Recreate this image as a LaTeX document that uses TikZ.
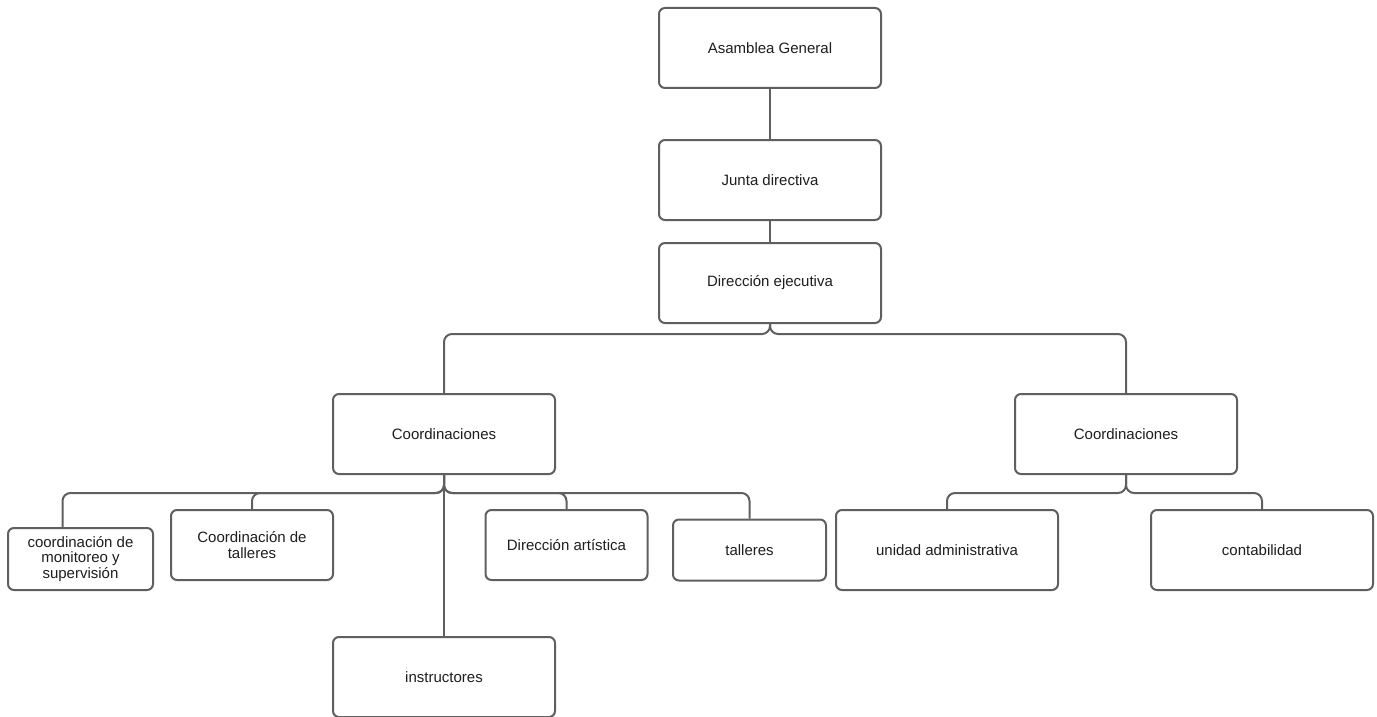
\documentclass[tikz,border=0pt]{standalone}
\usepackage{fontspec}
\setmainfont{Liberation Sans}
\usepackage{tikz}
\usetikzlibrary{calc,positioning}
\definecolor{orgline}{HTML}{5F5F5F}
\definecolor{orgtext}{HTML}{1E1E1E}
\definecolor{orgsurf}{HTML}{FFFFFF}

\begin{document}
\begin{tikzpicture}[x=0.75pt, y=-0.75pt,
    every node/.style={font=\fontsize{11.25}{11.8}\selectfont, text=orgtext},
    unit/.style={draw=orgline, fill=orgsurf, line width=1.5pt, rounded corners=4.5pt,
                 align=center, minimum width=166.5pt, minimum height=60pt},
    link/.style={draw=orgline, line width=1.5pt, rounded corners=6pt}]
  \useasboundingbox (0,0) rectangle (1377,717);
  % top chain
  \node[unit] (asam)  at (770,48)  {Asamblea General};
  \node[unit] (junta) at (770,180) {Junta directiva};
  \node[unit] (direc) at (770,283) {Dirección ejecutiva};
  \node[unit] (coordL) at (444,434)  {Coordinaciones};
  \node[unit] (coordR) at (1126,434) {Coordinaciones};
  % left branch
  \node[unit, minimum width=108.75pt, minimum height=46.5pt] (monit) at (80.5,559)
    {coordinación de\\monitoreo y\\supervisión};
  \node[unit, minimum width=121.5pt, minimum height=52.5pt] (ctall) at (252,545)
    {Coordinación de\\talleres};
  \node[unit] (instr) at (444,677) {instructores};
  \node[unit, minimum width=121.5pt, minimum height=52.5pt] (dart) at (566.5,545)
    {Dirección artística};
  \node[unit, minimum width=114.75pt, minimum height=45.75pt] (tall) at (749.5,550)
    {talleres};
  % right branch
  \node[unit] (unid)  at (947,550)  {unidad administrativa};
  \node[unit] (conta) at (1262,550) {contabilidad};

  \draw[link] (asam.south) -- (junta.north);
  \draw[link] (junta.south) -- (direc.north);
  \foreach \kid in {coordL,coordR}
    \draw[link] (direc.south) -- ++(0,10) -| (\kid.north);
  \draw[link] (coordL.south) -- ++(0,18) -| ([xshift=-13.5pt]monit.north);
  \foreach \kid in {ctall,dart,tall}
    \draw[link] (coordL.south) -- ++(0,18) -| (\kid.north);
  \draw[link] (coordL.south) -- (instr.north);
  \foreach \kid in {unid,conta}
    \draw[link] (coordR.south) -- ++(0,18) -| (\kid.north);
\end{tikzpicture}
\end{document}
